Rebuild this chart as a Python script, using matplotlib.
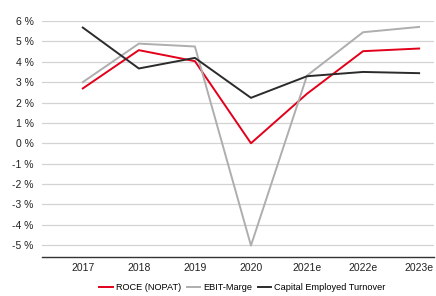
import matplotlib
matplotlib.use("Agg")
import matplotlib.pyplot as plt
from matplotlib.ticker import FuncFormatter

plt.rcParams['font.family'] = ['Liberation Sans', 'DejaVu Sans']

years = ["2017", "2018", "2019", "2020", "2021e", "2022e", "2023e"]
roce = [2.69, 4.57, 4.03, 0.0, 2.43, 4.52, 4.65]
ebit = [3.0, 4.89, 4.75, -5.02, 3.32, 5.45, 5.71]
cet = [5.68, 3.67, 4.19, 2.23, 3.29, 3.50, 3.44]
yticks = [6, 5, 4, 3, 2, 1, 0, -1, -2, -3, -4, -5]

fig = plt.figure(figsize=(4.36, 2.96), dpi=100)
ax = fig.add_axes([0.096, 0.132, 0.9, 0.797])
x = list(range(len(years)))
ax.plot(x, roce, color='#E2001A', lw=1.4, label='ROCE (NOPAT)')
ax.plot(x, ebit, color='#AEAEAE', lw=1.4, label='EBIT-Marge')
ax.plot(x, cet, color='#2B2B2B', lw=1.4, label='Capital Employed Turnover')

ax.set_xlim(-0.73, 6.27)
ax.set_ylim(-5.58, 6.0)
ax.set_yticks(yticks)
ax.yaxis.set_major_formatter(FuncFormatter(lambda v, p: f"{int(v)} %"))
ax.set_xticks(x)
ax.set_xticklabels(years)
ax.grid(axis='y', color='#D3D3D3', lw=0.9)
ax.set_axisbelow(True)
for s in ['top', 'right', 'left']:
    ax.spines[s].set_visible(False)
ax.spines['bottom'].set_color('#333333')
ax.spines['bottom'].set_linewidth(1.0)
ax.tick_params(axis='both', length=0, labelsize=7.5, colors='#222222', pad=6)
ax.tick_params(axis='x', pad=4.5)

leg = fig.legend(loc='center', bbox_to_anchor=(0.556, 1 - 288 / 296), ncol=3, frameon=False,
                 fontsize=6.6, handlelength=1.5, handletextpad=0.3, columnspacing=0.6,
                 borderpad=0, borderaxespad=0)
fig.savefig('out.png', dpi=100)
